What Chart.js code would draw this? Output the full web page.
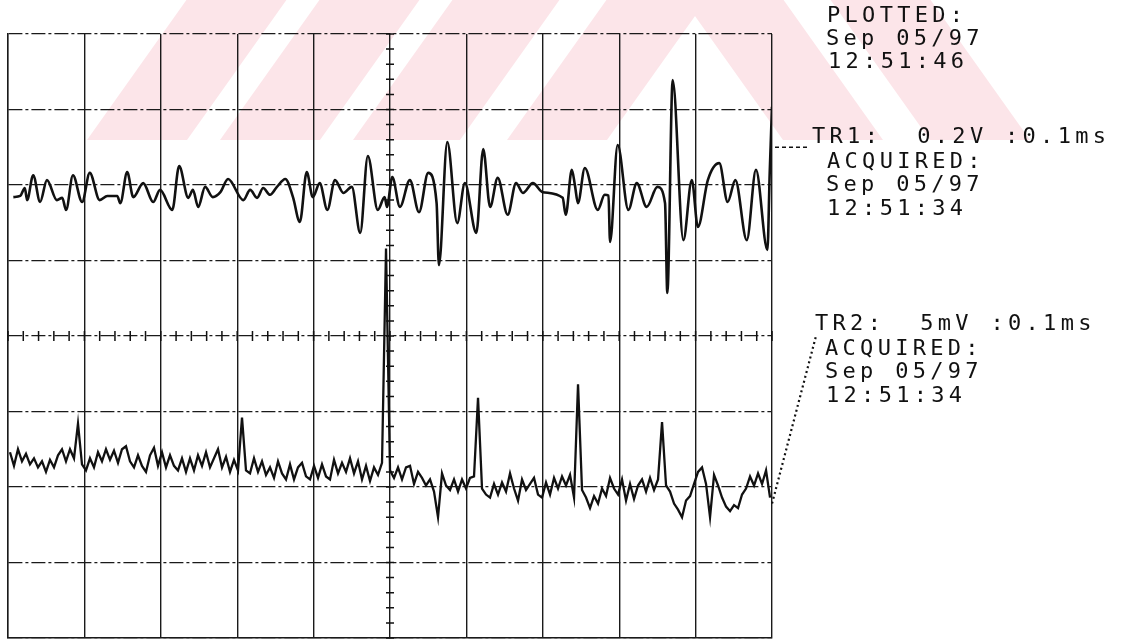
<!DOCTYPE html>
<html>
<head>
<meta charset="utf-8">
<script src="https://cdn.jsdelivr.net/npm/chart.js@4.4.1/dist/chart.umd.min.js"></script>
<style>
  html, body { margin: 0; padding: 0; background: #ffffff; }
  #wrap { position: relative; width: 1140px; height: 642px; overflow: hidden; }
  #c { position: absolute; left: 0; top: 0; }
  .t { position: absolute; font-family: "DejaVu Sans Mono", monospace; font-size: 22px;
       line-height: 24px; letter-spacing: 4.3px; color: #111; white-space: pre; }
</style>
</head>
<body>
<div id="wrap">
  <canvas id="c" width="1140" height="642"></canvas>
  <div class="t" style="left:827px; top:3px;">PLOTTED:</div>
  <div class="t" style="left:826px; top:26px;">Sep 05/97</div>
  <div class="t" style="left:828px; top:49px;">12:51:46</div>
  <div class="t" style="left:812px; top:124px;">TR1:  0.2V :0.1ms</div>
  <div class="t" style="left:827px; top:149px;">ACQUIRED:</div>
  <div class="t" style="left:826px; top:172px;">Sep 05/97</div>
  <div class="t" style="left:827px; top:196px;">12:51:34</div>
  <div class="t" style="left:815px; top:311px;">TR2:  5mV :0.1ms</div>
  <div class="t" style="left:825px; top:336px;">ACQUIRED:</div>
  <div class="t" style="left:825px; top:359px;">Sep 05/97</div>
  <div class="t" style="left:826px; top:383px;">12:51:34</div>
</div>
<script>
// ---- Data ----
// Time base: 0.1 ms / div, 10 divisions -> 0 .. 1000 microseconds
const timeDivisions = [0, 100, 200, 300, 400, 500, 600, 700, 800, 900, 1000];

// TR1 (0.2 V / div): turning points of the trace, time in microseconds, value in volts
const tr1Time = [7, 16, 22, 25, 33, 42, 51, 64, 71, 76, 85, 97, 107, 120, 130, 143, 147, 156, 164, 177,
  190, 199, 215, 224, 236, 242, 249, 258, 268, 278, 288, 308, 317, 326, 334, 343, 352, 363, 373, 382,
  391, 399, 408, 418, 428, 439, 450, 461, 471, 484, 493, 496, 503, 513, 526, 538, 550, 561, 564, 575,
  588, 598, 613, 622, 631, 641, 654, 665, 674, 687, 700, 726, 730, 738, 742, 746, 755, 772, 781, 786,
  788, 798, 812, 823, 836, 850, 860, 863, 870, 884, 895, 903, 916, 931, 942, 952, 967, 979, 994, 997, 1000];
const tr1Volts = [0.368, 0.371, 0.392, 0.360, 0.426, 0.355, 0.413, 0.360, 0.366, 0.334, 0.426, 0.355, 0.432, 0.360, 0.371, 0.371, 0.352, 0.434, 0.368, 0.405,
  0.355, 0.387, 0.334, 0.450, 0.366, 0.387, 0.342, 0.395, 0.368, 0.381, 0.416, 0.360, 0.387, 0.366, 0.392, 0.374, 0.395, 0.416, 0.368, 0.302,
  0.434, 0.368, 0.405, 0.334, 0.413, 0.379, 0.395, 0.273, 0.477, 0.334, 0.368, 0.342, 0.421, 0.342, 0.413, 0.328, 0.432, 0.352, 0.188, 0.514,
  0.299, 0.405, 0.273, 0.495, 0.342, 0.419, 0.321, 0.405, 0.379, 0.405, 0.381, 0.366, 0.321, 0.440, 0.400, 0.352, 0.445, 0.334, 0.374, 0.372,
  0.249, 0.506, 0.334, 0.405, 0.342, 0.395, 0.352, 0.114, 0.678, 0.254, 0.413, 0.289, 0.413, 0.458, 0.355, 0.413, 0.254, 0.440, 0.228, 0.432, 0.607];

// TR2 (5 mV / div): samples every 5.236 us starting at 2.6 us, value in millivolts
const tr2Start = 2.6;
const tr2Step = 5.236;
const tr2MilliVolts = [
  -7.7, -8.6, -7.5, -8.3, -7.8, -8.5, -8.1, -8.7, -8.3, -9.0, -8.2, -8.7, -7.9, -7.5, -8.3, -7.5, -8.1, -5.8, -8.5, -8.9,
  -8.1, -8.7, -7.7, -8.3, -7.5, -8.2, -7.6, -8.4, -7.5, -7.3, -8.3, -8.7, -7.9, -8.6, -9.0, -7.9, -7.4, -8.6, -7.7, -8.7,
  -7.9, -8.6, -8.9, -8.1, -9.0, -8.1, -8.9, -7.9, -8.6, -7.7, -8.7, -8.1, -7.5, -8.7, -8.0, -9.0, -8.2, -8.9, -5.4, -8.9,
  -9.1, -8.1, -9.0, -8.3, -9.2, -8.7, -9.4, -8.3, -9.1, -9.5, -8.5, -9.5, -8.7, -8.4, -9.3, -9.5, -8.6, -9.4, -8.5, -9.3,
  -9.5, -8.2, -9.1, -8.4, -9.0, -8.1, -9.1, -8.3, -9.5, -8.6, -9.6, -8.7, -9.2, -8.4, 5.8, -8.9, -9.4, -8.7, -9.5, -8.7,
  -8.6, -9.8, -9.0, -9.4, -9.9, -9.5, -10.3, -12.0, -9.1, -9.9, -10.2, -9.5, -10.3, -9.5, -10.1, -9.4, -9.3, -4.1, -10.1, -10.5,
  -10.7, -9.8, -10.5, -9.7, -10.3, -9.1, -10.1, -10.9, -9.5, -10.2, -9.8, -9.4, -10.5, -10.7, -9.7, -10.5, -9.4, -10.1, -9.3, -9.9,
  -9.2, -10.7, -3.2, -10.2, -10.7, -11.4, -10.6, -11.1, -10.1, -10.6, -9.4, -10.1, -10.5, -9.5, -10.9, -9.8, -10.8, -9.9, -9.5, -10.3,
  -9.4, -10.2, -9.5, -5.7, -9.9, -10.3, -11.1, -11.5, -12.0, -10.9, -10.6, -9.8, -9.0, -8.7, -9.8, -12.0, -9.2, -9.9, -10.7, -11.3,
  -11.6, -11.2, -11.4, -10.5, -10.1, -9.3, -9.9, -9.1, -9.8, -8.9, -10.7];

const tr1Scale = { min: -0.8, max: 0.8, step: 0.2 };   // volts
const tr2Scale = { min: -20, max: 20 };               // millivolts
const tr1RefLevel = 0.5;   // level where TR1 label connector meets the screen edge

const tr1Points = tr1Time.map((t, i) => ({ x: t, y: tr1Volts[i] }));
const tr2Points = tr2MilliVolts.map((v, i) => ({ x: tr2Start + i * tr2Step, y: v }));

// ---- Plugins ----
// faint striped background stamp of the scanned page
const watermark = {
  id: 'watermark',
  beforeDraw(chart) {
    const ctx = chart.ctx;
    const base = 140, k = 0.71;
    const leftBands = [[87, 187], [220, 320], [353, 460], [507, 607]];
    const rightBands = [[783, 883], [930, 1030]];
    ctx.save();
    ctx.fillStyle = '#fce5e9';
    for (const [a, b] of leftBands) {
      ctx.beginPath();
      ctx.moveTo(a, base); ctx.lineTo(b, base);
      ctx.lineTo(b + k * base, 0); ctx.lineTo(a + k * base, 0);
      ctx.closePath(); ctx.fill();
    }
    for (const [a, b] of rightBands) {
      ctx.beginPath();
      ctx.moveTo(a, base); ctx.lineTo(b, base);
      ctx.lineTo(b - k * base, 0); ctx.lineTo(a - k * base, 0);
      ctx.closePath(); ctx.fill();
    }
    ctx.restore();
  }
};

const scopeDecor = {
  id: 'scopeDecor',
  afterDatasetsDraw(chart) {
    const ctx = chart.ctx;
    const xs = chart.scales.x, ys = chart.scales.y;
    const cx = xs.getPixelForValue(500), cy = ys.getPixelForValue(0);
    ctx.save();
    ctx.strokeStyle = '#111';
    ctx.lineWidth = 1.5;
    ctx.beginPath();
    for (let t = 0; t <= 1000; t += 20) {
      const px = xs.getPixelForValue(t);
      ctx.moveTo(px, cy - 5); ctx.lineTo(px, cy + 5);
    }
    for (let v = -0.8; v <= 0.8001; v += 0.04) {
      const py = ys.getPixelForValue(v);
      ctx.moveTo(cx - 4, py); ctx.lineTo(cx + 4, py);
    }
    ctx.stroke();
    // TR1 label connector (dashed)
    const right = chart.chartArea.right;
    const y1 = ys.getPixelForValue(tr1RefLevel);
    ctx.setLineDash([4, 3]);
    ctx.lineWidth = 1.3;
    ctx.beginPath();
    ctx.moveTo(right + 3, y1); ctx.lineTo(right + 38, y1);
    ctx.stroke();
    // TR2 label connector (dotted), from the trace end to the label
    const meta = chart.getDatasetMeta(1);
    const last = meta.data[meta.data.length - 1];
    ctx.setLineDash([2, 3]);
    ctx.lineWidth = 2.2;
    ctx.beginPath();
    ctx.moveTo(last.x + 2, last.y + 6);
    ctx.lineTo(right + 44, cy);
    ctx.stroke();
    ctx.restore();
  }
};

new Chart(document.getElementById('c'), {
  type: 'line',
  data: {
    datasets: [
      { label: 'TR1', data: tr1Points, yAxisID: 'y', borderColor: '#111', borderWidth: 2.6,
        pointRadius: 0, cubicInterpolationMode: 'monotone', fill: false },
      { label: 'TR2', data: tr2Points, yAxisID: 'y2', borderColor: '#111', borderWidth: 2.3,
        pointRadius: 0, tension: 0, fill: false }
    ]
  },
  options: {
    responsive: false,
    animation: false,
    devicePixelRatio: 1,
    layout: { padding: { left: 8, top: 34, right: 368, bottom: 4 } },
    plugins: { legend: { display: false }, tooltip: { enabled: false } },
    scales: {
      x: {
        type: 'linear', min: timeDivisions[0], max: timeDivisions[timeDivisions.length - 1],
        afterBuildTicks(scale) { scale.ticks = timeDivisions.map(v => ({ value: v })); },
        ticks: { display: false },
        grid: { color: '#1a1a1a', lineWidth: 1.4, drawTicks: false },
        border: { display: true, color: '#1a1a1a', width: 1.4 }
      },
      y: {
        min: tr1Scale.min, max: tr1Scale.max,
        ticks: { display: false, stepSize: tr1Scale.step },
        grid: { color: '#1a1a1a', lineWidth: 1.3, drawTicks: false },
        border: { display: true, color: '#1a1a1a', width: 1.4, dash: [14, 3, 3, 3] }
      },
      y2: { display: false, min: tr2Scale.min, max: tr2Scale.max }
    }
  },
  plugins: [watermark, scopeDecor]
});
</script>
</body>
</html>
